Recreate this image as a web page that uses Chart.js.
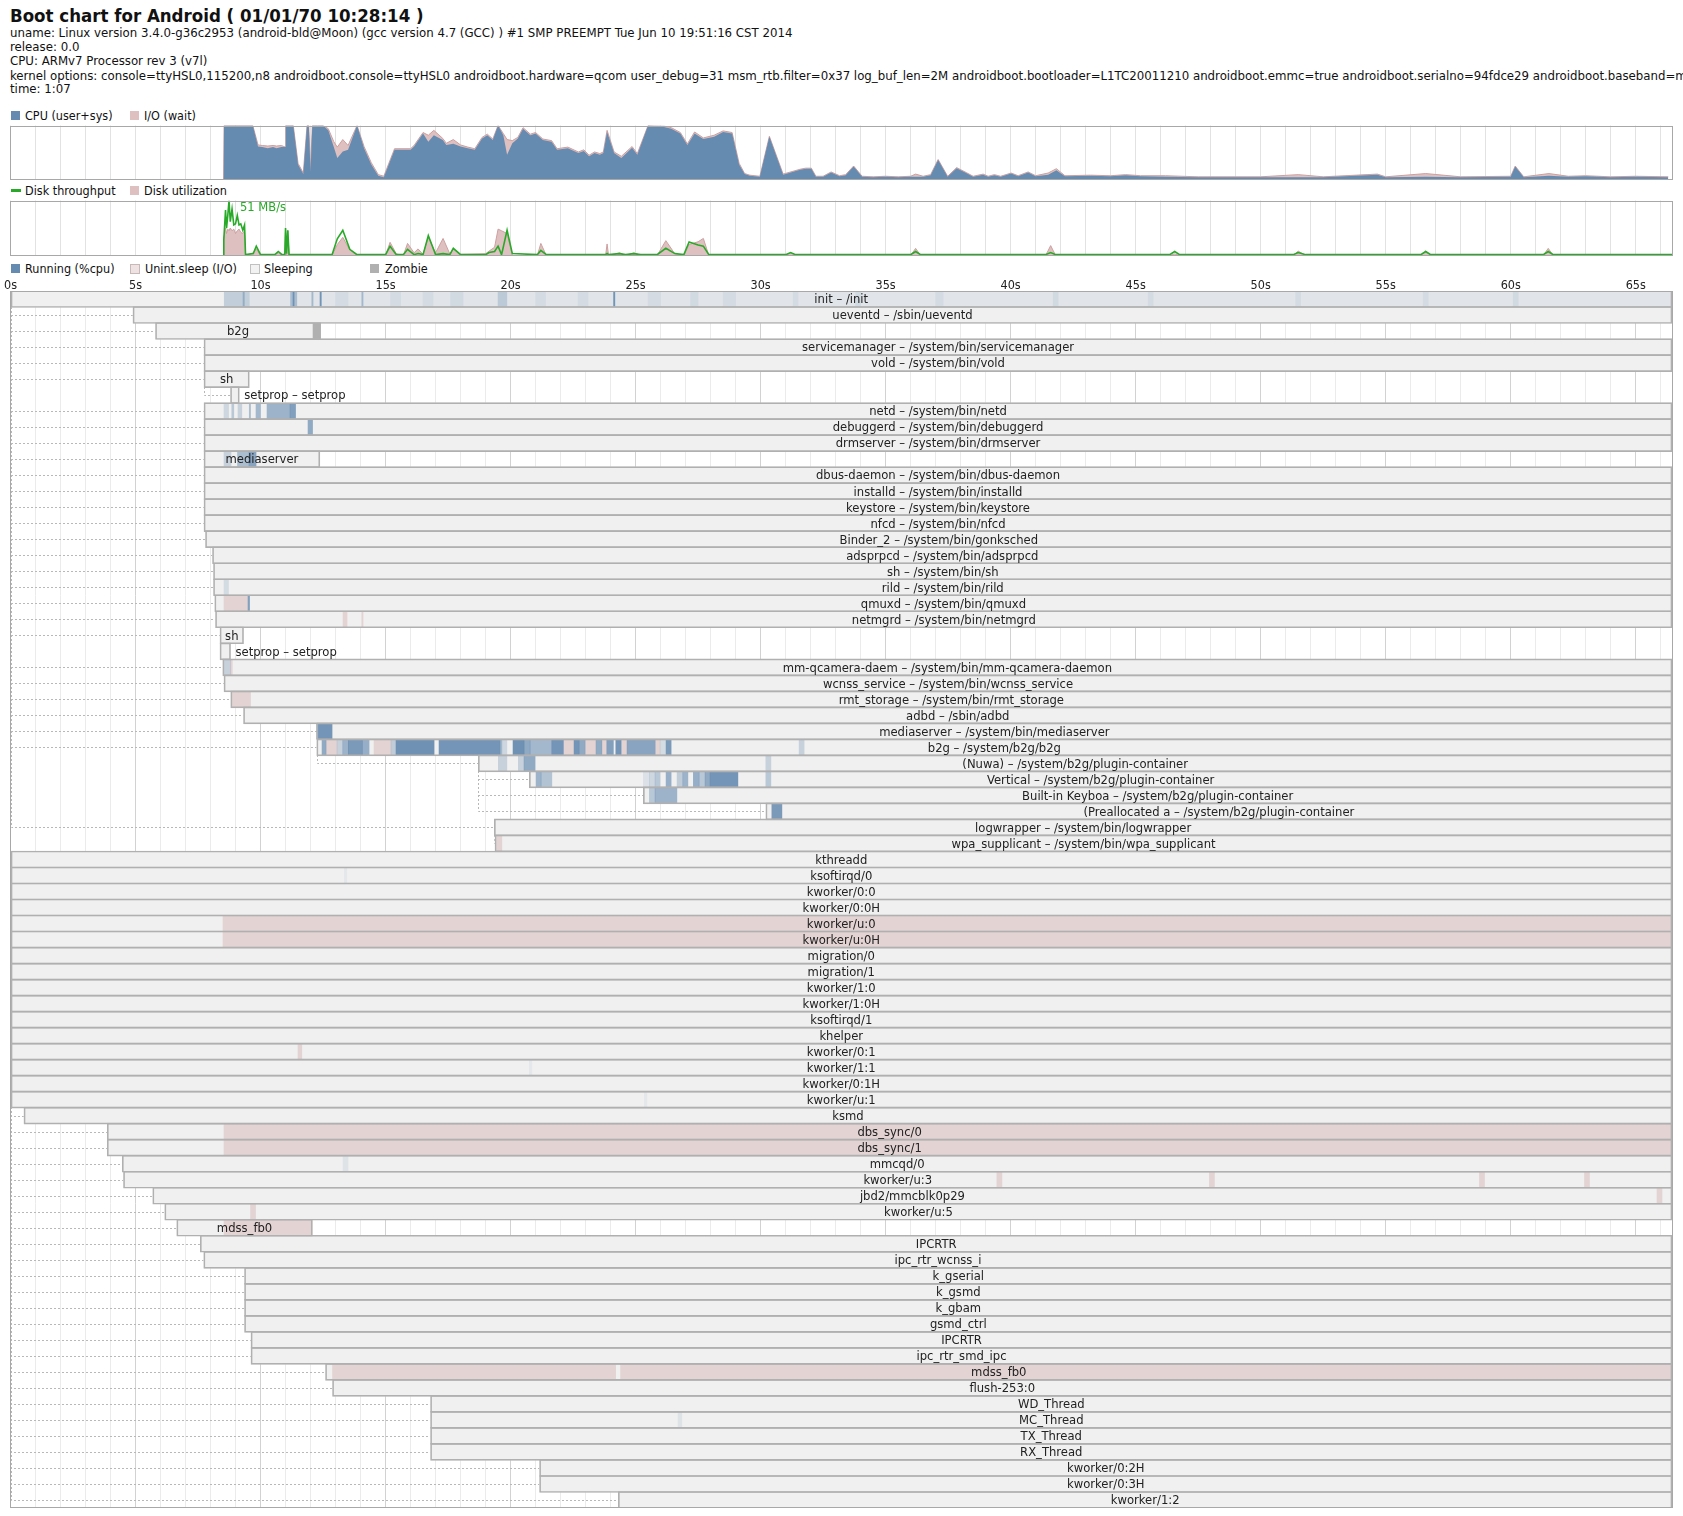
<!DOCTYPE html>
<html>
<head>
<meta charset="utf-8">
<script src="https://cdn.jsdelivr.net/npm/chart.js@4.4.1/dist/chart.umd.min.js"></script>
<style>
body { margin: 0; background: #fff; width: 1683px; height: 1516px; position: relative; overflow: hidden;
       font-family: "DejaVu Sans Condensed", "DejaVu Sans", sans-serif; color: #111; }
.t { position: absolute; left: 10px; white-space: nowrap; font-size: 13.1px; line-height: 14px; }
.title { font-size: 18.5px; font-weight: bold; line-height: 22px; top: 5px; }
.lg { position: absolute; white-space: nowrap; font-size: 12.5px; line-height: 14px; }
.sq { position: absolute; width: 9px; height: 9px; }
.box { position: absolute; left: 0; }
</style>
</head>
<body>
<div class="t title">Boot chart for Android ( 01/01/70 10:28:14 )</div>
<div class="t" style="top:26px">uname: Linux version 3.4.0-g36c2953 (android-bld@Moon) (gcc version 4.7 (GCC) ) #1 SMP PREEMPT Tue Jun 10 19:51:16 CST 2014</div>
<div class="t" style="top:40px">release: 0.0</div>
<div class="t" style="top:54px">CPU: ARMv7 Processor rev 3 (v7l)</div>
<div class="t" style="top:68.5px">kernel options: console=ttyHSL0,115200,n8 androidboot.console=ttyHSL0 androidboot.hardware=qcom user_debug=31 msm_rtb.filter=0x37 log_buf_len=2M androidboot.bootloader=L1TC20011210 androidboot.emmc=true androidboot.serialno=94fdce29 androidboot.baseband=msm</div>
<div class="t" style="top:82px">time: 1:07</div>

<div class="sq" style="left:11px;top:111px;background:rgb(102,139,176)"></div>
<div class="lg" style="left:25px;top:108.5px">CPU (user+sys)</div>
<div class="sq" style="left:130px;top:111px;background:rgb(222,192,192)"></div>
<div class="lg" style="left:144px;top:108.5px">I/O (wait)</div>

<div class="sq" style="left:11px;top:189px;height:3px;width:10px;background:rgb(40,170,40)"></div>
<div class="lg" style="left:25px;top:183.5px">Disk throughput</div>
<div class="sq" style="left:130px;top:186px;background:rgb(222,192,192)"></div>
<div class="lg" style="left:144px;top:183.5px">Disk utilization</div>

<div class="sq" style="left:11px;top:264px;background:rgb(102,139,176)"></div>
<div class="lg" style="left:25px;top:261.5px">Running (%cpu)</div>
<div class="sq" style="left:130px;top:264px;width:8px;height:8px;background:rgb(238,226,226);border:1px solid #c8b8b8"></div>
<div class="lg" style="left:145px;top:261.5px">Unint.sleep (I/O)</div>
<div class="sq" style="left:250px;top:264px;width:8px;height:8px;background:#f2f2f2;border:1px solid #c0c0c0"></div>
<div class="lg" style="left:264px;top:261.5px">Sleeping</div>
<div class="sq" style="left:370px;top:264px;background:#b0b0b0"></div>
<div class="lg" style="left:385px;top:261.5px">Zombie</div>

<div class="box" style="top:125px"><canvas id="cpu" width="1683" height="55"></canvas></div>
<div class="box" style="top:200px"><canvas id="disk" width="1683" height="56"></canvas></div>
<div class="box" style="top:271px"><canvas id="procs" width="1683" height="1237"></canvas></div>

<script>
const END = 66.45;

// cpu load (%), sampled by bootchart
const cpuTimes = [8.52, 8.54, 9.69, 9.9, 10.07, 10.29, 10.5, 10.64, 10.83, 10.99, 11.01, 11.31, 11.5, 11.71, 11.86, 11.93, 12.0, 12.07, 12.14, 12.28,
  12.5, 12.71, 12.93, 13.07, 13.29, 13.5, 13.86, 14.14, 14.43, 14.71, 14.93, 15.36, 16.0, 16.14, 16.5, 16.71, 16.93, 17.29, 17.43, 17.71,
  18.0, 18.29, 18.57, 18.86, 19.07, 19.29, 19.5, 19.71, 19.86, 20.07, 20.29, 20.5, 20.79, 21.0, 21.29, 21.64, 21.86, 22.29, 22.71, 22.93,
  23.14, 23.36, 23.57, 23.71, 23.86, 24.14, 24.43, 24.86, 25.07, 25.5, 26.14, 26.43, 26.79, 27.07, 27.36, 27.71, 28.14, 28.5, 28.86, 29.14,
  29.36, 29.57, 29.97, 30.35, 30.9, 31.58, 31.8, 32.03, 32.21, 32.5, 32.82, 33.16, 33.4, 33.72, 34.06, 34.5, 35.0, 35.5, 36.0, 36.2,
  36.5, 36.8, 37.1, 37.48, 37.84, 38.22, 38.5, 38.9, 39.1, 39.35, 39.6, 40.02, 40.3, 40.7, 41.0, 41.5, 41.83, 42.17, 43.2, 44.0,
  44.6, 45.2, 46.2, 47.5, 50.0, 51.5, 52.5, 54.67, 55.0, 56.6, 58.0, 60.0, 60.18, 60.52, 61.53, 62.3, 63.0, 64.0, 65.0, 66.3];
const cpuUser = [0, 100, 100, 61, 60, 58, 60, 58, 60, 60, 100, 100, 28, 10, 100, 100, 15, 100, 100, 100,
  100, 91, 60, 40, 52, 55, 100, 58, 28, 7, 4, 55, 55, 61, 85, 70, 82, 73, 64, 66,
  61, 58, 55, 76, 82, 73, 100, 82, 46, 67, 76, 94, 82, 85, 73, 70, 55, 58, 49, 53,
  43, 49, 46, 49, 88, 49, 40, 59, 46, 100, 97, 94, 85, 64, 85, 75, 79, 88, 85, 28,
  10, 7, 5, 79, 9, 18, 20, 20, 5, 5, 13, 6, 8, 24, 5, 4, 5, 4, 5, 5,
  5, 8, 36, 5, 21, 12, 5, 9, 5, 8, 5, 11, 6, 13, 6, 9, 17, 6, 7, 6,
  8, 6, 5, 4, 4, 4, 4, 9, 4, 5, 4, 5, 24, 4, 7, 5, 6, 4, 5, 4];
const ioWait = [0, 0, 0, 3, 3, 4, 3, 4, 3, 0, 0, 0, 2, 2, 0, 0, 2, 0, 0, 0,
  0, 3, 10, 20, 22, 8, 0, 3, 3, 2, 2, 2, 2, 2, 2, 12, 9, 3, 3, 8,
  3, 2, 2, 2, 2, 2, 0, 3, 28, 5, 2, 2, 2, 2, 2, 2, 2, 2, 2, 2,
  2, 2, 2, 2, 3, 2, 3, 2, 2, 0, 2, 2, 2, 2, 3, 2, 3, 2, 2, 2,
  1, 1, 1, 1, 1, 1, 1, 1, 1, 1, 1, 1, 1, 1, 1, 1, 1, 1, 1, 5,
  1, 1, 1, 1, 1, 1, 1, 1, 1, 1, 1, 1, 1, 1, 1, 3, 3, 1, 1, 1,
  1, 1, 2, 1, 1, 5, 1, 1, 1, 6, 1, 1, 1, 1, 4, 1, 1, 1, 1, 1];

// disk: throughput (MB/s) and utilization (%)
const diskTimes = [8.5, 8.53, 8.6, 8.64, 8.69, 8.74, 8.79, 8.86, 8.93, 9.0, 9.07, 9.14, 9.21, 9.29, 9.36, 9.4,
  9.71, 9.83, 10.0, 10.57, 10.71, 10.86, 10.97, 11.0, 11.04, 11.09, 11.14,
  12.86, 13.07, 13.29, 13.57, 13.86, 15.0, 15.18, 15.43, 15.71, 15.88, 16.14, 16.3, 16.5,
  16.71, 17.0, 17.3, 17.57, 17.71, 18.0, 19.0, 19.14, 19.36, 19.5, 19.64, 19.86, 20.07,
  21.07, 21.21, 21.43, 23.8, 23.86, 23.92, 24.36, 24.6, 24.93, 25.2, 25.86, 26.21, 26.57,
  26.93, 27.14, 27.5, 27.71, 27.93, 31.0, 31.2, 31.4, 36.0, 36.2, 36.4, 41.4, 41.6, 41.8,
  46.36, 46.56, 46.76, 51.3, 51.5, 51.8, 56.4, 56.6, 56.8, 61.3, 61.5, 61.7, 66.45];
const diskThroughput = [0, 14, 42, 25, 37, 51, 31, 43, 28, 29, 37, 28, 29, 23, 28, 0,
  1, 8, 0, 0, 3, 0, 0, 25, 1, 23, 0,
  0, 15, 23, 5, 0, 0, 8, 0, 0, 5, 0, 1, 0,
  18, 0, 1, 0, 6, 0, 0, 2, 3, 8, 0, 23, 1,
  0, 4, 0, 0, 1, 0, 1, 0, 1, 0, 0, 6, 1,
  0, 12, 9, 8, 0, 0, 2, 0, 0, 3, 0, 0, 2, 0,
  0, 3, 0, 0, 2, 0, 0, 3, 0, 0, 3, 0, 0];
const diskUtil = [0, 30, 50, 40, 48, 45, 50, 45, 48, 40, 45, 48, 42, 40, 45, 0,
  5, 12, 0, 0, 5, 0, 0, 48, 0, 45, 0,
  0, 20, 33, 10, 0, 0, 24, 3, 0, 22, 5, 12, 2,
  33, 5, 31, 3, 12, 2, 3, 8, 15, 48, 45, 40, 0,
  0, 22, 0, 0, 21, 0, 5, 0, 5, 0, 0, 27, 3,
  0, 20, 25, 31, 0, 0, 5, 0, 0, 13, 0, 0, 18, 0,
  0, 3, 0, 0, 8, 0, 0, 8, 0, 0, 13, 0, 0];

// processes, top to bottom
const procNames = ['init – /init', 'ueventd – /sbin/ueventd', 'b2g', 'servicemanager – /system/bin/servicemanager',
  'vold – /system/bin/vold', 'sh', 'setprop – setprop', 'netd – /system/bin/netd', 'debuggerd – /system/bin/debuggerd',
  'drmserver – /system/bin/drmserver', 'mediaserver', 'dbus-daemon – /system/bin/dbus-daemon', 'installd – /system/bin/installd',
  'keystore – /system/bin/keystore', 'nfcd – /system/bin/nfcd', 'Binder_2 – /system/bin/gonksched', 'adsprpcd – /system/bin/adsprpcd',
  'sh – /system/bin/sh', 'rild – /system/bin/rild', 'qmuxd – /system/bin/qmuxd', 'netmgrd – /system/bin/netmgrd', 'sh',
  'setprop – setprop', 'mm-qcamera-daem – /system/bin/mm-qcamera-daemon', 'wcnss_service – /system/bin/wcnss_service',
  'rmt_storage – /system/bin/rmt_storage', 'adbd – /sbin/adbd', 'mediaserver – /system/bin/mediaserver', 'b2g – /system/b2g/b2g',
  '(Nuwa) – /system/b2g/plugin-container', 'Vertical – /system/b2g/plugin-container', 'Built-in Keyboa – /system/b2g/plugin-container',
  '(Preallocated a – /system/b2g/plugin-container', 'logwrapper – /system/bin/logwrapper', 'wpa_supplicant – /system/bin/wpa_supplicant',
  'kthreadd', 'ksoftirqd/0', 'kworker/0:0', 'kworker/0:0H', 'kworker/u:0', 'kworker/u:0H', 'migration/0', 'migration/1',
  'kworker/1:0', 'kworker/1:0H', 'ksoftirqd/1', 'khelper', 'kworker/0:1', 'kworker/1:1', 'kworker/0:1H', 'kworker/u:1', 'ksmd',
  'dbs_sync/0', 'dbs_sync/1', 'mmcqd/0', 'kworker/u:3', 'jbd2/mmcblk0p29', 'kworker/u:5', 'mdss_fb0', 'IPCRTR', 'ipc_rtr_wcnss_i',
  'k_gserial', 'k_gsmd', 'k_gbam', 'gsmd_ctrl', 'IPCRTR', 'ipc_rtr_smd_ipc', 'mdss_fb0', 'flush-253:0', 'WD_Thread', 'MC_Thread',
  'TX_Thread', 'RX_Thread', 'kworker/0:2H', 'kworker/0:3H', 'kworker/1:2'];
const procStart = [0, 4.9, 5.8, 7.74, 7.74, 7.74, 8.8, 7.74, 7.74, 7.74, 7.74, 7.74, 7.74, 7.74, 7.74, 7.8, 8.08, 8.12, 8.12, 8.17,
  8.2, 8.38, 8.38, 8.49, 8.54, 8.81, 9.32, 12.25, 12.25, 18.71, 20.75, 25.31, 30.21, 19.35, 19.38,
  0, 0, 0, 0, 0, 0, 0, 0, 0, 0, 0, 0, 0, 0, 0, 0, 0.54, 3.87, 3.87, 4.47, 4.52, 5.69, 6.17, 6.65, 7.59, 7.73,
  9.36, 9.36, 9.36, 9.36, 9.62, 9.62, 12.6, 12.88, 16.8, 16.8, 16.8, 16.8, 21.16, 21.16, 24.31];
const procEnd = [END, END, 12.4, END, END, 9.55, 9.15, END, END, END, 12.37, END, END, END, END, END, END, END, END, END,
  END, 9.32, 8.8, END, END, END, END, END, END, END, END, END, END, END, END,
  END, END, END, END, END, END, END, END, END, END, END, END, END, END, END, END, END, END, END, END, END, END, END, 12.07, END, END,
  END, END, END, END, END, END, END, END, END, END, END, END, END, END, END];
const procParent = [-1, 0, 0, 0, 0, 0, 5, 0, 0, 0, 0, 0, 0, 0, 0, 0, 0, 0, 0, 0,
  0, 0, 21, 0, 0, 0, 0, 0, 0, 28, 29, 29, 29, 0, 33,
  -1, 35, 35, 35, 35, 35, 35, 35, 35, 35, 35, 35, 35, 35, 35, 35, 35, 35, 35, 35, 35, 35, 35, 35, 35, 35,
  35, 35, 35, 35, 35, 35, 35, 35, 35, 35, 35, 35, 35, 35, 35];

// [row, from, to, cpu share]
const runSegs = [
  [0, 8.55, END, 0.1], [0, 8.55, 9.55, 0.25], [0, 9.3, 9.35, 0.5], [0, 11.2, 11.45, 0.45], [0, 11.3, 11.34, 0.9],
  [0, 12.05, 12.1, 0.5], [0, 12.38, 12.43, 0.9], [0, 13.0, 13.5, 0.1], [0, 14.05, 14.1, 0.5], [0, 15.2, 15.6, 0.1],
  [0, 16.5, 16.9, 0.1], [0, 17.6, 18.1, 0.12], [0, 19.5, 19.85, 0.3], [0, 21.0, 21.4, 0.1], [0, 22.7, 23.1, 0.1],
  [0, 24.12, 24.17, 0.9], [0, 25.5, 26.0, 0.1], [0, 27.2, 27.5, 0.12], [0, 28.5, 29.0, 0.1], [0, 31.3, 31.5, 0.1],
  [0, 33.8, 34.0, 0.12], [0, 37.0, 37.3, 0.1], [0, 41.7, 41.9, 0.12], [0, 45.5, 45.7, 0.1], [0, 51.4, 51.6, 0.1],
  [0, 56.5, 56.7, 0.1], [0, 60.1, 60.3, 0.12],
  [7, 8.54, 8.72, 0.25], [7, 8.85, 8.93, 0.4], [7, 9.1, 9.25, 0.3], [7, 9.55, 9.6, 0.5], [7, 9.82, 10.0, 0.55],
  [7, 10.26, 11.18, 0.6], [7, 11.18, 11.4, 0.8],
  [8, 11.9, 12.08, 0.7],
  [10, 8.54, 8.82, 0.3], [10, 9.08, 9.54, 0.5], [10, 9.54, 9.82, 0.75],
  [18, 8.54, 8.72, 0.2], [19, 9.5, 9.56, 0.8], [23, 8.55, 8.8, 0.3],
  [27, 12.25, 12.86, 0.9],
  [28, 12.46, 12.62, 0.7], [28, 13.06, 13.29, 0.3], [28, 13.29, 13.51, 0.6], [28, 13.51, 14.07, 0.85], [28, 14.07, 14.34, 0.65],
  [28, 15.22, 15.42, 0.35], [28, 15.42, 16.94, 0.95], [28, 17.14, 19.58, 0.9], [28, 19.58, 19.65, 0.5], [28, 19.65, 19.85, 0.25],
  [28, 20.1, 20.54, 0.95], [28, 20.54, 20.78, 0.7], [28, 20.78, 21.65, 0.55], [28, 21.65, 22.11, 0.9], [28, 22.54, 22.74, 0.9],
  [28, 22.74, 22.98, 0.7], [28, 23.42, 23.65, 0.7], [28, 23.85, 24.11, 0.8], [28, 24.21, 24.42, 0.9], [28, 24.66, 25.78, 0.75],
  [28, 25.98, 26.22, 0.2], [28, 26.22, 26.42, 0.85], [28, 31.54, 31.74, 0.3],
  [29, 19.51, 19.85, 0.3], [29, 20.31, 20.54, 0.3], [29, 20.54, 20.98, 0.7], [29, 30.21, 30.41, 0.3],
  [30, 21.02, 21.22, 0.6], [30, 21.22, 21.65, 0.45], [30, 25.31, 25.55, 0.15], [30, 25.55, 25.78, 0.25], [30, 25.78, 25.98, 0.4],
  [30, 26.22, 26.42, 0.65], [30, 26.66, 26.89, 0.35], [30, 26.89, 27.09, 0.6], [30, 27.31, 27.54, 0.65], [30, 27.54, 27.78, 0.4],
  [30, 27.78, 27.98, 0.7], [30, 27.98, 29.09, 0.9], [30, 30.21, 30.41, 0.4],
  [31, 25.55, 25.78, 0.4], [31, 25.78, 26.65, 0.6],
  [32, 30.45, 30.85, 0.85],
  [36, 13.35, 13.45, 0.08], [48, 20.75, 20.85, 0.08], [50, 25.35, 25.45, 0.08], [54, 13.3, 13.5, 0.12], [70, 26.7, 26.85, 0.12]];

// [row, from, to] uninterruptible sleep
const ioSegs = [
  [19, 8.54, 9.48], [20, 13.3, 13.46], [20, 14.05, 14.1], [23, 8.8, 8.87], [25, 8.86, 9.6], [34, 19.45, 19.65],
  [28, 12.62, 13.06], [28, 14.54, 15.22], [28, 22.11, 22.54], [28, 22.98, 23.42], [28, 23.65, 23.85], [28, 24.42, 24.66], [28, 25.78, 25.98],
  [39, 8.5, END], [40, 8.5, END], [47, 11.5, 11.65], [52, 8.54, END], [53, 8.54, END],
  [55, 39.45, 39.65], [55, 47.95, 48.15], [55, 58.75, 58.95], [55, 62.95, 63.15], [56, 65.85, 66.05],
  [57, 9.6, 9.8], [58, 8.54, 12.07], [67, 12.88, 24.2], [67, 24.4, END]];

const zombieSegs = [[2, 12.1, 12.4]];

const BLUE = 'rgb(102,139,176)';
const FONT = '"DejaVu Sans Condensed", "DejaVu Sans", sans-serif';

Chart.defaults.font.family = FONT;
Chart.defaults.animation = false;
Chart.defaults.events = [];
Chart.defaults.plugins.legend.display = false;
Chart.defaults.plugins.tooltip.enabled = false;

const frame = {
  id: 'frame',
  afterDraw(chart) {
    const a = chart.chartArea, ctx = chart.ctx;
    ctx.save();
    ctx.strokeStyle = '#a8a8a8';
    ctx.lineWidth = 1;
    ctx.strokeRect(Math.round(a.left) - 0.5, Math.round(a.top) + 0.5, Math.round(a.right - a.left), Math.round(a.bottom - a.top) - 1);
    ctx.restore();
  }
};

function timeAxis() {
  return {
    type: 'linear', min: 0, max: END,
    ticks: { display: false, stepSize: 1, includeBounds: false },
    grid: { color: '#e2e2e2', drawTicks: false },
    border: { display: false }
  };
}

// CPU chart
new Chart(document.getElementById('cpu'), {
  type: 'line',
  data: {
    datasets: [
      { data: cpuTimes.map((t, i) => ({ x: t, y: cpuUser[i] })), backgroundColor: BLUE, borderWidth: 0,
        fill: 'origin', pointRadius: 0, order: 0 },
      { data: cpuTimes.map((t, i) => ({ x: t, y: cpuUser[i] + ioWait[i] })), backgroundColor: 'rgb(222,192,192)',
        borderColor: 'rgb(205,160,160)', borderWidth: 1, fill: 'origin', pointRadius: 0, order: 1 }
    ]
  },
  options: {
    responsive: false,
    layout: { padding: { left: 10.5, right: 11, top: 0.5, bottom: 0.5 } },
    scales: { x: timeAxis(), y: { display: false, min: 0, max: 100 } }
  },
  plugins: [frame]
});

// disk chart
const peak = Math.max(...diskThroughput);
const peakLabel = {
  id: 'peakLabel',
  afterDatasetsDraw(chart) {
    const i = diskThroughput.indexOf(peak);
    const x = chart.scales.x.getPixelForValue(diskTimes[i]);
    const ctx = chart.ctx;
    ctx.save();
    ctx.font = '12.8px ' + FONT;
    ctx.fillStyle = 'rgb(40,170,40)';
    ctx.textBaseline = 'middle';
    ctx.fillText(peak + ' MB/s', x + 11, chart.chartArea.top + 7);
    ctx.restore();
  }
};
new Chart(document.getElementById('disk'), {
  type: 'line',
  data: {
    datasets: [
      { data: diskTimes.map((t, i) => ({ x: t, y: diskThroughput[i] })), yAxisID: 'y2', borderColor: 'rgb(40,170,40)',
        borderWidth: 1.6, pointRadius: 0, fill: false, order: 0 },
      { data: diskTimes.map((t, i) => ({ x: t, y: diskUtil[i] })), yAxisID: 'y', backgroundColor: 'rgb(222,192,192)',
        borderColor: 'rgb(205,160,160)', borderWidth: 1, pointRadius: 0, fill: 'origin', order: 1 }
    ]
  },
  options: {
    responsive: false,
    layout: { padding: { left: 10.5, right: 11, top: 0.5, bottom: 0.5 } },
    scales: {
      x: timeAxis(),
      y: { display: false, min: 0, max: 100 },
      y2: { display: false, min: -0.8, max: peak }
    }
  },
  plugins: [frame, peakLabel]
});

// process chart
const rows = procNames.map((_, i) => i);
const spans = procStart.map((s, i) => [s, procEnd[i]]);
const segData = list => list.map(s => ({ x: [s[1], s[2]], y: s[0] }));

const connectors = {
  id: 'connectors',
  beforeDatasetsDraw(chart) {
    const xs = chart.scales.x, ys = chart.scales.y, ctx = chart.ctx;
    ctx.save();
    ctx.strokeStyle = '#b8b8b8';
    ctx.lineWidth = 1;
    ctx.setLineDash([2, 2]);
    procParent.forEach((p, i) => {
      if (p < 0) return;
      const px = Math.round(xs.getPixelForValue(procStart[p])) + 0.5;
      const cx = xs.getPixelForValue(procStart[i]);
      const py = Math.round(ys.getPixelForValue(p)) + 8;
      const cy = Math.round(ys.getPixelForValue(i)) + 0.5;
      ctx.beginPath();
      ctx.moveTo(px, py);
      ctx.lineTo(px, cy);
      ctx.lineTo(cx, cy);
      ctx.stroke();
    });
    ctx.restore();
  }
};

const names = {
  id: 'names',
  afterDatasetsDraw(chart) {
    const xs = chart.scales.x, ys = chart.scales.y, ctx = chart.ctx;
    ctx.save();
    ctx.font = '12.9px ' + FONT;
    ctx.fillStyle = '#222';
    ctx.textBaseline = 'middle';
    procNames.forEach((n, i) => {
      const x0 = xs.getPixelForValue(procStart[i]), x1 = xs.getPixelForValue(procEnd[i]);
      const w = ctx.measureText(n).width;
      const y = ys.getPixelForValue(i) + 1;
      if (w + 6 < x1 - x0) {
        ctx.textAlign = 'center';
        ctx.fillText(n, (x0 + x1) / 2, y);
      } else {
        ctx.textAlign = 'left';
        ctx.fillText(n, x1 + 5, y);
      }
    });
    ctx.restore();
  }
};

new Chart(document.getElementById('procs'), {
  type: 'bar',
  data: {
    labels: rows,
    datasets: [
      { data: spans, backgroundColor: 'rgba(0,0,0,0)', borderColor: '#b0b0b0', borderWidth: 1, borderSkipped: false,
        barThickness: 17, grouped: false, order: 0 },
      { data: segData(runSegs), backgroundColor: runSegs.map(s => 'rgba(102,139,176,' + s[3] + ')'),
        barThickness: 15, grouped: false, order: 1 },
      { data: segData(ioSegs), backgroundColor: 'rgb(227,211,211)', barThickness: 15, grouped: false, order: 2 },
      { data: segData(zombieSegs), backgroundColor: 'rgb(176,176,176)', barThickness: 15, grouped: false, order: 3 },
      { data: spans, backgroundColor: '#f0f0f0', barThickness: 16, grouped: false, order: 4 }
    ]
  },
  options: {
    indexAxis: 'y',
    responsive: false,
    layout: { padding: { left: 10.5, right: 11, top: 0, bottom: 0 } },
    scales: {
      x: {
        type: 'linear', position: 'top', min: 0, max: END,
        ticks: { stepSize: 1, autoSkip: false, maxRotation: 0, includeBounds: false, padding: -2, color: '#222',
                 font: { size: 12.5 }, callback: v => (v % 5 === 0 ? v + 's' : '') },
        grid: { drawTicks: false, color: c => (c.tick && c.tick.value % 5 === 0 ? '#d2d2d2' : '#ebebeb') },
        border: { display: false },
        afterFit: s => { s.height = 20; }
      },
      y: { type: 'category', display: false }
    }
  },
  plugins: [connectors, names, frame]
});
</script>
</body>
</html>
